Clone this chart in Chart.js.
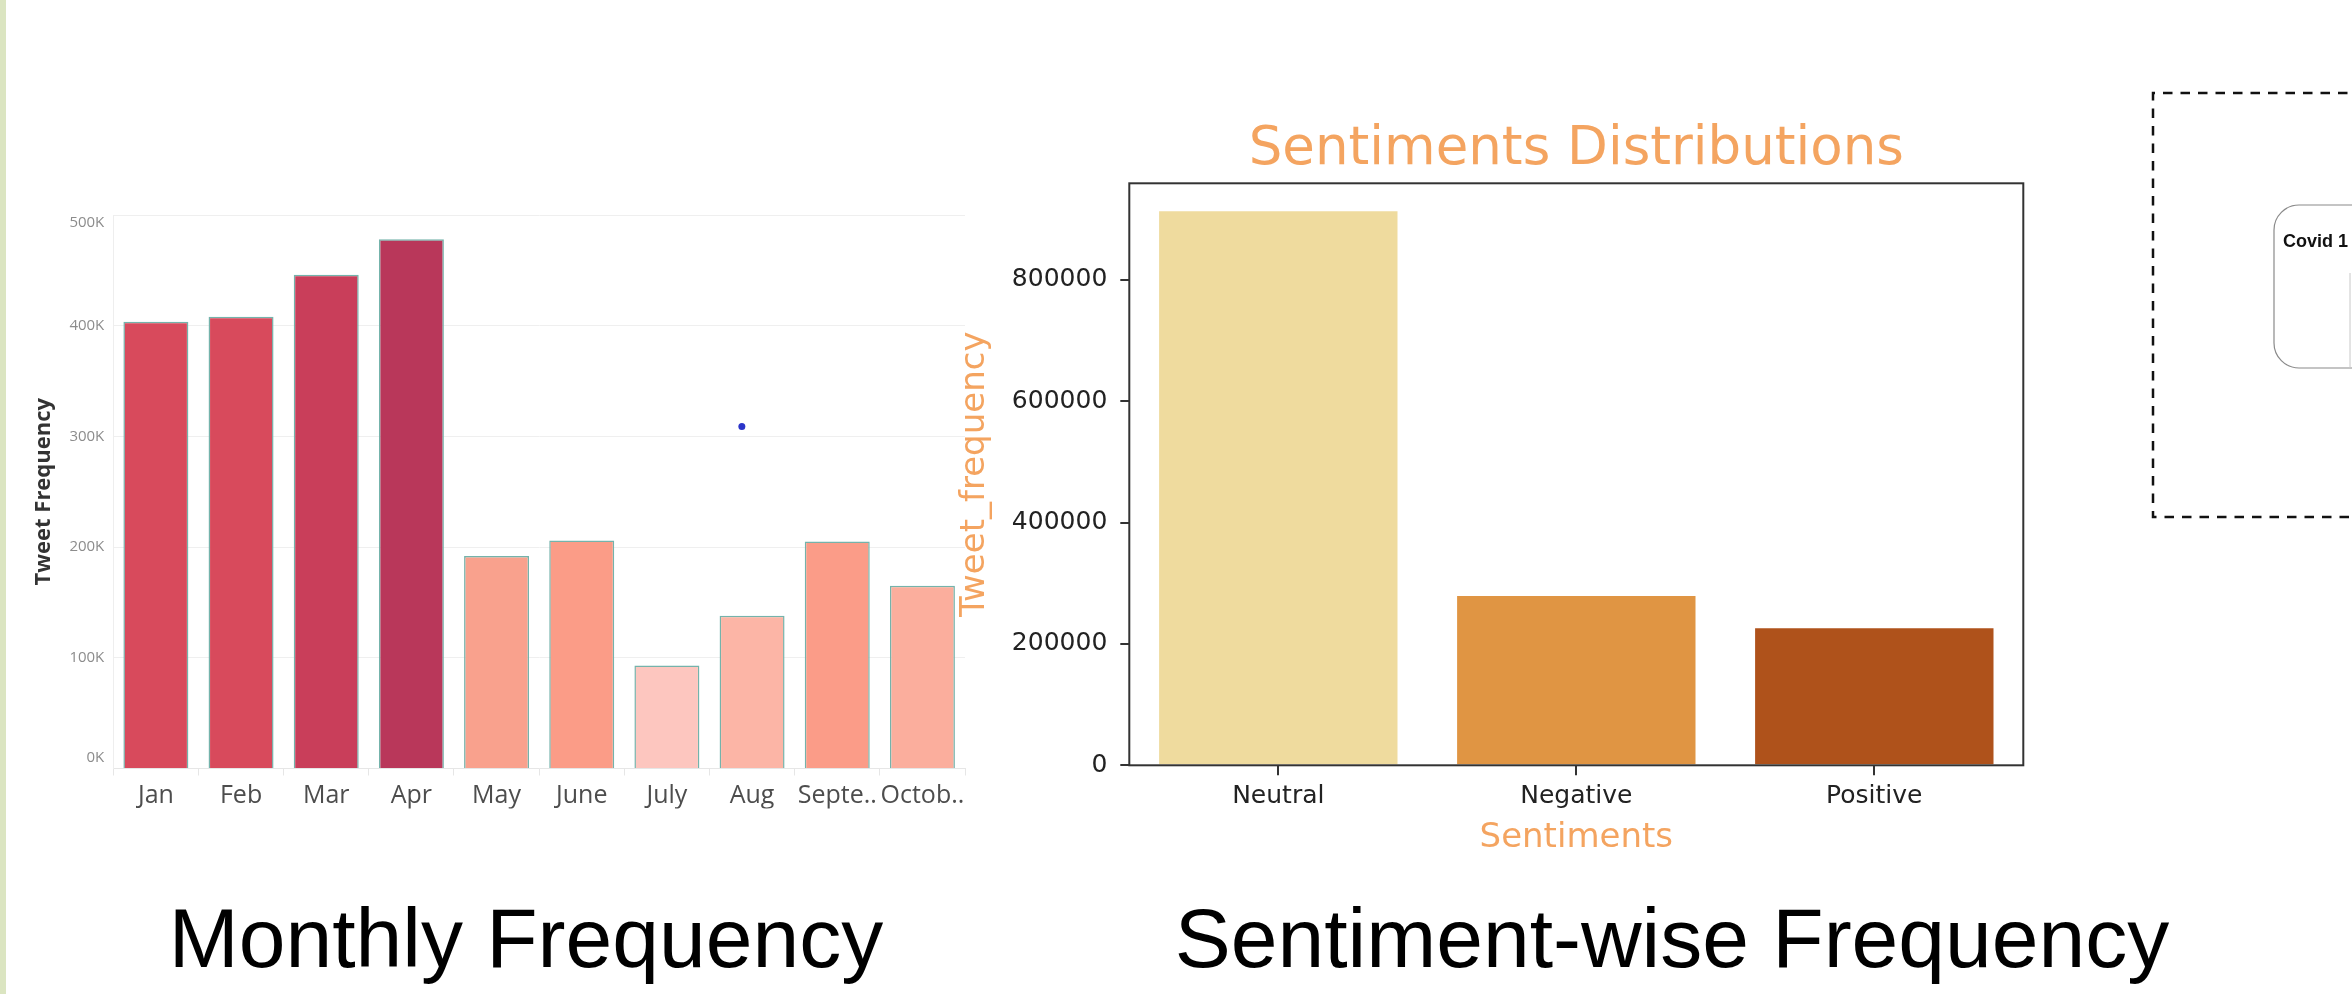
<!DOCTYPE html>
<html>
<head>
<meta charset="utf-8">
<script src="https://cdn.jsdelivr.net/npm/chart.js@4.4.1/dist/chart.umd.min.js"></script>
<style>
  html, body { margin: 0; padding: 0; background: #ffffff; }
  body { width: 2352px; height: 994px; position: relative; overflow: hidden; }
  .box { position: absolute; }
  .caption { position: absolute; font-family: "Liberation Sans", Arial, sans-serif; font-size: 84px; line-height: 84px; color: #000; text-align: center; white-space: nowrap; }
  #strip { position: absolute; left: 0; top: 0; width: 6px; height: 994px; background: #dbe5c1; }
</style>
</head>
<body>
<div class="box" id="c1box" style="left:0px; top:180px; width:1000px; height:640px;"><canvas id="c1"></canvas></div>
<div class="box" id="c2box" style="left:940px; top:100px; width:1120px; height:780px;"><canvas id="c2"></canvas></div>
<div id="strip"></div>
<div class="caption" style="left:126px; top:896px; width:800px;">Monthly Frequency</div>
<div class="caption" style="left:1122px; top:896px; width:1100px;">Sentiment-wise Frequency</div>
<svg class="box" style="left:0; top:0;" width="2352" height="994">
  <path d="M 2400 93 L 2153 93 L 2153 517 L 2400 517" fill="none" stroke="#111" stroke-width="2.5" stroke-dasharray="9.5 8"/>
  <rect x="2274" y="205" width="220" height="163" rx="25" ry="25" fill="#fff" stroke="#8a8a8a" stroke-width="1.2"/>
  <line x1="2350" y1="273" x2="2350" y2="368" stroke="#c8c8c8" stroke-width="1"/>
  <text x="2283" y="247" font-family="Liberation Sans, Arial, sans-serif" font-weight="bold" font-size="18" fill="#111">Covid 1</text>
</svg>
<script>
// ---------- Data ----------
const months = ['Jan', 'Feb', 'Mar', 'Apr', 'May', 'June', 'July', 'Aug', 'Septe..', 'Octob..'];
const monthlyTweets = [403500, 408000, 446000, 478000, 192000, 206000, 93000, 138000, 205000, 165000];
const monthColors = ['#d84a5c', '#d84a5c', '#c93e5a', '#b9375a', '#f9a18d', '#fb9c87', '#fdc6bf', '#fcb5a6', '#fb9c88', '#fbae9d'];
const monthlyTickValues = [0, 100000, 200000, 300000, 400000, 500000];
const monthlyTickLabels = ['0K', '100K', '200K', '300K', '400K', '500K'];
const strayPoint = [{ x: 6.88, y: 309000 }];

const sentiments = ['Neutral', 'Negative', 'Positive'];
const sentimentTweets = [913000, 279000, 226000];
const sentimentColors = ['#efdb9e', '#e09543', '#af521b'];
const sentimentTickValues = [0, 200000, 400000, 600000, 800000];

Chart.defaults.animation = false;
Chart.defaults.responsive = true;
Chart.defaults.maintainAspectRatio = false;

// ---------- Chart 1: Monthly frequency (Tableau style) ----------
const tableauYLabels = {
  id: 'tableauYLabels',
  afterDraw(chart) {
    const s = chart.scales.y, a = chart.chartArea, ctx = chart.ctx;
    ctx.save();
    ctx.font = '15px "Open Sans"';
    ctx.fillStyle = '#8c8c8c';
    ctx.textAlign = 'right';
    ctx.textBaseline = 'middle';
    monthlyTickValues.forEach((v, i) => {
      let y = s.getPixelForValue(v);
      y = Math.min(Math.max(y, a.top + 8), a.bottom - 11);
      ctx.fillText(monthlyTickLabels[i], s.right - 9, y);
    });
    ctx.restore();
  }
};

new Chart(document.getElementById('c1'), {
  type: 'bar',
  data: {
    labels: months,
    datasets: [{
      type: 'bar',
      data: monthlyTweets,
      backgroundColor: monthColors,
      borderColor: '#74b3ab',
      borderWidth: 1.5,
      grouped: false,
      categoryPercentage: 1,
      barPercentage: 0.763
    }, {
      type: 'scatter',
      xAxisID: 'xd',
      data: strayPoint,
      pointRadius: 3.5,
      pointBackgroundColor: '#2b35c9',
      pointBorderWidth: 0
    }]
  },
  options: {
    layout: { padding: { left: 0, top: 35, right: 35, bottom: 11.5 } },
    plugins: { legend: { display: false }, tooltip: { enabled: false } },
    scales: {
      x: {
        type: 'category',
        afterFit: s => { s.height = 40; },
        grid: { offset: true, drawOnChartArea: false, drawTicks: true, tickLength: 7, color: '#e6e6e6' },
        border: { color: '#e6e6e6' },
        ticks: { autoSkip: false, maxRotation: 0, padding: 5, color: '#4d4d4d', font: { family: '"Open Sans"', size: 25 } }
      },
      xd: { type: 'linear', display: false, offset: false, grid: { offset: false }, min: -0.5, max: 9.5 },
      y: {
        min: 0, max: 500000,
        afterFit: s => { s.width = 113.3; },
        ticks: { display: false, stepSize: 100000 },
        grid: { color: '#efefef', drawTicks: false },
        border: { color: '#eeeeee' },
        title: {
          display: true, text: 'Tweet Frequency', color: '#333333',
          font: { family: '"Open Sans"', size: 22, weight: 'bold' },
          padding: { top: 30.3, bottom: 0 }
        }
      }
    }
  },
  plugins: [tableauYLabels]
});

// ---------- Chart 2: Sentiment distribution (matplotlib style) ----------
const frame = {
  id: 'frame',
  afterDraw(chart) {
    const a = chart.chartArea, ctx = chart.ctx;
    ctx.save();
    ctx.strokeStyle = '#333333';
    ctx.lineWidth = 2;
    ctx.strokeRect(a.left, a.top, a.right - a.left, a.bottom - a.top);
    ctx.restore();
  }
};

new Chart(document.getElementById('c2'), {
  type: 'bar',
  data: {
    labels: sentiments,
    datasets: [{
      data: sentimentTweets,
      backgroundColor: sentimentColors,
      borderWidth: 0,
      categoryPercentage: 1,
      barPercentage: 0.8
    }]
  },
  options: {
    layout: { padding: { left: 0, top: 0, right: 36.7, bottom: 19.7 } },
    plugins: {
      legend: { display: false }, tooltip: { enabled: false },
      title: {
        display: true, fullSize: false, text: 'Sentiments Distributions', color: '#f4a460',
        font: { family: '"DejaVu Sans"', size: 53, weight: 'normal', lineHeight: 1.2 },
        padding: { top: 18.2, bottom: 1.5 }
      }
    },
    scales: {
      x: {
        afterFit: s => { s.height = 95; },
        grid: { offset: false, drawOnChartArea: false, drawTicks: true, tickLength: 10, color: '#333333', lineWidth: 2 },
        border: { display: false },
        ticks: { padding: 6, color: '#222222', font: { family: '"DejaVu Sans"', size: 25 } },
        title: {
          display: true, text: 'Sentiments', color: '#f4a460',
          font: { family: '"DejaVu Sans"', size: 34, lineHeight: 1.2 },
          padding: { top: 0, bottom: 1.9 }
        }
      },
      y: {
        min: 0, max: 959000,
        afterFit: s => { s.width = 189.3; },
        afterBuildTicks: s => { s.ticks = sentimentTickValues.map(v => ({ value: v })); },
        grid: { drawOnChartArea: false, drawTicks: true, tickLength: 9, color: '#333333', lineWidth: 2 },
        border: { display: false },
        ticks: { padding: 13, color: '#222222', font: { family: '"DejaVu Sans"', size: 25 }, callback: v => String(v) },
        title: {
          display: true, text: 'Tweet_frequency', color: '#f4a460',
          font: { family: '"DejaVu Sans"', size: 34, lineHeight: 1.2 },
          padding: { top: 14.6, bottom: 0 }
        }
      }
    }
  },
  plugins: [frame]
});
</script>
</body>
</html>
